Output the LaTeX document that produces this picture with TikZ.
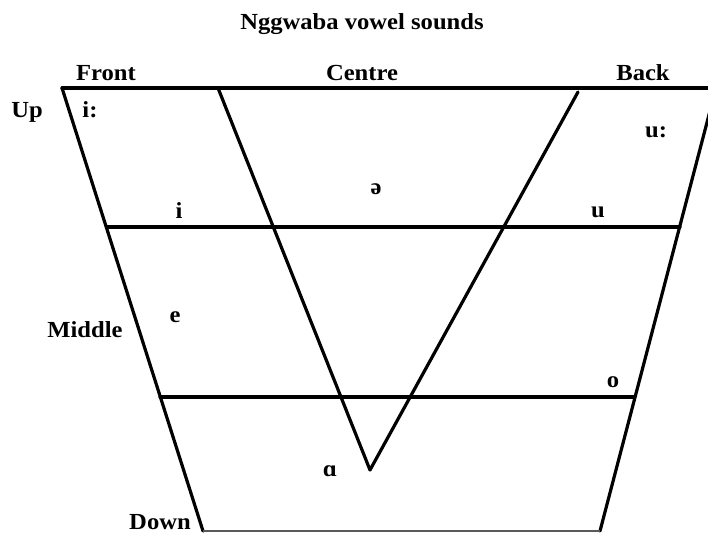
\documentclass[tikz,border=0pt]{standalone}
\usepackage{fontspec}
\setmainfont[FakeStretch=1.07]{Liberation Serif}
\begin{document}
\begin{tikzpicture}[x=1pt,y=-1pt,
  lbl/.style={font=\bfseries\fontsize{23}{26}\selectfont, inner sep=0pt, anchor=base, text=black},
  thick line/.style={line width=3.2pt, line cap=round, line join=round},
  thin line/.style={line width=1.3pt, draw=black!65}]
\useasboundingbox (0,0) rectangle (708,534);
\begin{scope}
\clip (0,0) rectangle (708,534);
% outline corners
\coordinate (tl) at (62,88);
\coordinate (tr) at (716,88);
\coordinate (topend) at (708,88);
\coordinate (bl) at (203,531);
\coordinate (br) at (600,531);
% grid
\coordinate (h1l) at (107,227);
\coordinate (h1r) at (680,227);
\coordinate (h2l) at (160,397);
\coordinate (h2r) at (634,397);
% V
\coordinate (v1) at (218,88);
\coordinate (v2) at (578,92);
\coordinate (vb) at (370,470);
\draw[thick line] (tl) -- (topend);
\draw[thick line] (tl) -- (bl);
\draw[thick line] (tr) -- (br);
\draw[thin line] (bl) -- (br);
\draw[thick line] (h1l) -- (h1r);
\draw[thick line] (h2l) -- (h2r);
\draw[thick line] (v1) -- (vb) -- (v2);
\end{scope}
% labels
\node[lbl] (title) at (362,30) {Nggwaba vowel sounds};
\node[lbl] (front) at (106,80.5) {Front};
\node[lbl] (centre) at (362,80.5) {Centre};
\node[lbl] (back) at (643,80.5) {Back};
\node[lbl] (up) at (27,118) {Up};
\node[lbl] (middle) at (85,337) {Middle};
\node[lbl] (down) at (160,529) {Down};
\node[lbl] (ilong) at (90,118) {i:};
\node[lbl] (ulong) at (656,138) {u:};
\node[lbl] (schwa) at (376,195) {ə};
\node[lbl] (i) at (179,219) {i};
\node[lbl] (u) at (598,218) {u};
\node[lbl] (e) at (175,322) {e};
\node[lbl] (o) at (613,387) {o};
\node[lbl] (a) at (330,476) {ɑ};
\end{tikzpicture}
\end{document}
